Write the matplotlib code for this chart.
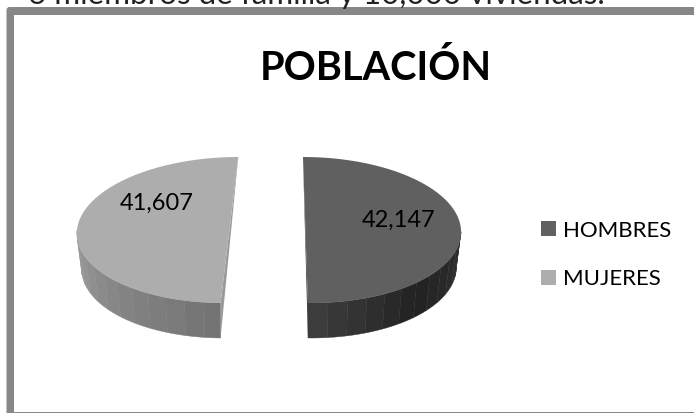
import numpy as np
import matplotlib.pyplot as plt
from matplotlib.colors import to_rgb
from matplotlib.patches import FancyBboxPatch, Polygon, Rectangle

categories = ["HOMBRES", "MUJERES"]
values = [42147, 41607]
value_labels = ["42,147", "41,607"]
title = "POBLACIÓN"
cut_text = "6 miembros de familia y 10,000 viviendas."

fig = plt.figure(figsize=(6.94, 4.13), dpi=100)
ax = fig.add_axes([0, 0, 1, 1])
ax.set_xlim(0, 694)
ax.set_ylim(413, 0)
ax.axis("off")

# chart frame, right side runs off the picture
border = "#878787"
ax.add_patch(FancyBboxPatch((6.5, 7), 720, 420, boxstyle="round,pad=0,rounding_size=3", fc=border, ec="none", zorder=1))
ax.add_patch(Rectangle((14.5, 15), 720, 396.5, fc="white", ec="none", zorder=2))

# text of the page above the chart, cut by the image edge
ax.text(28, 4, cut_text, fontsize=22.6, family="Lato", color="#222222", va="baseline", ha="left")

ax.text(375.5, 80, title, fontsize=28.6, family="Lato", weight="bold", ha="center", va="baseline", color="black", zorder=5)

# pie geometry
cy = 230
a = 154
b = 73
depth = 35
bottom_scale = 0.97
centers = [307, 231]
shears = [-0.055, 0.1]
tops = ["#606060", "#adadad"]
side_cols = [("#3c3c3c", "#222222", "#303030"), ("#737373", "#858585", "#9c9c9c")]
cut_cols = ["#333333", "#9a9a9a"]

def pt(cx, shear, ang, scale=1.0):
    ang = np.radians(ang)
    yy = b * np.sin(ang)
    return cx + scale * a * np.cos(ang) + shear * yy, cy - yy

shares = np.array(values) / np.sum(values)
edges = 90 - 360 * np.concatenate([[0], np.cumsum(shares)])

for i in range(2):
    cx, sh = centers[i], shears[i]
    t = np.linspace(edges[i], edges[i + 1], 120)
    xs, ys = pt(cx, sh, t)

    # outer side, in strips, only the part that faces the viewer
    lo = np.sort(t[np.sin(np.radians(t)) <= 0])
    steps = np.append(np.arange(lo[0], lo[-1], 7.5), lo[-1])
    c0, c1, c2 = [np.array(to_rgb(c)) for c in side_cols[i]]
    for j in range(len(steps) - 1):
        tt = np.linspace(steps[j], steps[j + 1], 8)
        px, py = pt(cx, sh, tt)
        qx, qy = pt(cx, sh, tt, bottom_scale)
        f = j / max(len(steps) - 2, 1)
        if i == 0:
            col = c0 + (c1 - c0) * f * 2 if f < 0.5 else c1 + (c2 - c1) * (f - 0.5) * 2
        else:
            col = c2 + (c1 - c2) * f * 2 if f < 0.5 else c1 + (c0 - c1) * (f - 0.5) * 2
        verts = np.r_[np.c_[px, py], np.c_[qx[::-1], qy[::-1] + depth]]
        ax.add_patch(Polygon(verts, closed=True, fc=col, ec=col, lw=0.3, zorder=3))

    # cut face, thin sliver
    tx, ty = (xs[0], ys[0]) if i == 0 else (xs[-1], ys[-1])
    bx, by = (xs[-1], ys[-1]) if i == 0 else (xs[0], ys[0])
    ax.add_patch(Polygon([(tx, ty), (bx, by), (bx, by + depth)], closed=True, fc=cut_cols[i], ec="none", zorder=3))

    # top surface
    ax.add_patch(Polygon(np.c_[xs, ys], closed=True, fc=tops[i], ec="none", zorder=4))

ax.text(398.5, 220, value_labels[0], fontsize=17, family="Lato", ha="center", va="center", color="black", zorder=5)
ax.text(156.5, 203, value_labels[1], fontsize=17, family="Lato", ha="center", va="center", color="black", zorder=5)

handles = [Rectangle((0, 0), 1, 1, fc=tops[0], ec="none"), Rectangle((0, 0), 1, 1, fc=tops[1], ec="none")]
ax.legend(handles, categories, loc="center left", bbox_to_anchor=(541, 255), bbox_transform=ax.transData,
          frameon=False, prop={"family": "Lato", "size": 16}, labelspacing=1.3, handlelength=0.68,
          handleheight=0.68, handletextpad=0.32, borderpad=0, borderaxespad=0)

fig.savefig("out.png", dpi=100)
